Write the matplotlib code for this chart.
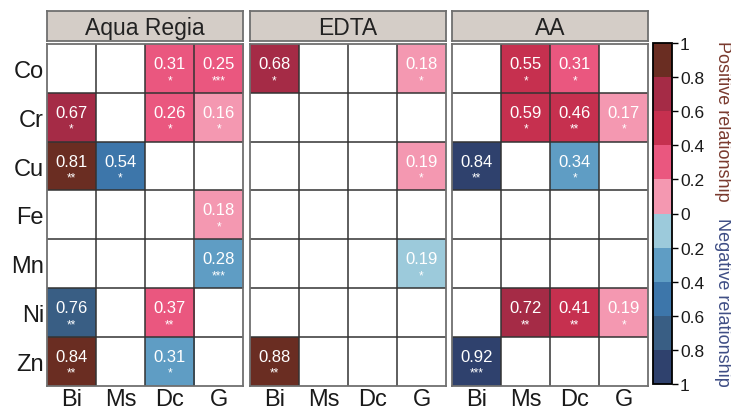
import numpy as np
import matplotlib
matplotlib.use('Agg')
import matplotlib.pyplot as plt
import matplotlib.colors as mcolors

plt.rcParams['font.family'] = ['Liberation Sans', 'DejaVu Sans']

# 데이터
elements = ['Co', 'Cr', 'Cu', 'Fe', 'Mn', 'Ni', 'Zn']
params = ['Bi', 'Ms', 'Dc', 'G']
panels = ['Aqua Regia', 'EDTA', 'AA']

# 부호 있는 상관계수 (음수 = 음의 관계), nan = 유의하지 않음
nan = np.nan
aqua_regia = [
    [nan, nan, 0.31, 0.25],
    [0.67, nan, 0.26, 0.16],
    [0.81, -0.54, nan, nan],
    [nan, nan, nan, 0.18],
    [nan, nan, nan, -0.28],
    [-0.76, nan, 0.37, nan],
    [0.84, nan, -0.31, nan],
]
aqua_regia_sig = [
    ['', '', '*', '***'],
    ['*', '', '*', '*'],
    ['**', '*', '', ''],
    ['', '', '', '*'],
    ['', '', '', '***'],
    ['**', '', '**', ''],
    ['**', '', '*', ''],
]
edta = [
    [0.68, nan, nan, 0.18],
    [nan, nan, nan, nan],
    [nan, nan, nan, 0.19],
    [nan, nan, nan, nan],
    [nan, nan, nan, -0.19],
    [nan, nan, nan, nan],
    [0.88, nan, nan, nan],
]
edta_sig = [
    ['*', '', '', '*'],
    ['', '', '', ''],
    ['', '', '', '*'],
    ['', '', '', ''],
    ['', '', '', '*'],
    ['', '', '', ''],
    ['**', '', '', ''],
]
aa = [
    [nan, 0.55, 0.31, nan],
    [nan, 0.59, 0.46, 0.17],
    [-0.84, nan, -0.34, nan],
    [nan, nan, nan, nan],
    [nan, nan, nan, nan],
    [nan, 0.72, 0.41, 0.19],
    [-0.92, nan, nan, nan],
]
aa_sig = [
    ['', '*', '*', ''],
    ['', '*', '**', '*'],
    ['**', '', '*', ''],
    ['', '', '', ''],
    ['', '', '', ''],
    ['', '**', '**', '*'],
    ['***', '', '', ''],
]
values = [aqua_regia, edta, aa]
sigs = [aqua_regia_sig, edta_sig, aa_sig]

cbar_ticks = [-1, -0.8, -0.6, -0.4, -0.2, 0, 0.2, 0.4, 0.6, 0.8, 1]

# 색상 설정 (-1 -> 1)
colors = ['#2F416D', '#395E84', '#3D76AA', '#5F9DC4', '#9CCADB',
          '#F498B1', '#EA577F', '#C6304F', '#A52B46', '#6A2D22']
cmap = mcolors.ListedColormap(colors)
norm = mcolors.BoundaryNorm(np.linspace(-1, 1, 11), cmap.N)

W, H = 731, 410
fig = plt.figure(figsize=(W / 100, H / 100), dpi=100)


def px_axes(x0, y0, x1, y1):
    return fig.add_axes([x0 / W, 1 - y1 / H, (x1 - x0) / W, (y1 - y0) / H])


panel_x = [(46.7, 243.3), (250, 446), (452.3, 648.3)]
grid_top, grid_bot = 45, 386.6

for k, name in enumerate(panels):
    x0, x1 = panel_x[k]
    ax = px_axes(x0, grid_top, x1, grid_bot)
    data = np.ma.masked_invalid(np.array(values[k], dtype=float))
    ax.imshow(data, cmap=cmap, norm=norm, aspect='auto',
              extent=(-0.5, 3.5, 6.5, -0.5))
    # 격자선
    for i in range(1, 4):
        ax.axvline(i - 0.5, color='#333333', lw=1.1)
    for j in range(1, 7):
        ax.axhline(j - 0.5, color='#333333', lw=1.1)
    for sp in ax.spines.values():
        sp.set_color('#6f6f6f')
        sp.set_linewidth(1.3)
    for r in range(7):
        for c in range(4):
            v = values[k][r][c]
            if np.isnan(v):
                continue
            ax.text(c, r - 0.1, f'{abs(v):.2f}', ha='center', va='center',
                    color='white', fontsize=12)
            ax.text(c, r + 0.24, sigs[k][r][c], ha='center', va='center',
                    color='white', fontsize=8.5)
    ax.set_xlim(-0.5, 3.5)
    ax.set_ylim(6.5, -0.5)
    ax.set_xticks(range(4))
    ax.set_xticklabels(params, fontsize=17, color='#1a1a1a')
    ax.tick_params(length=0, pad=2)
    if k == 0:
        ax.set_yticks(range(7))
        ax.set_yticklabels(elements, fontsize=17, color='#1a1a1a')
    else:
        ax.set_yticks([])

    # 패널 제목 상자
    hx = px_axes(x0, 11.7, x1, 41.7)
    hx.set_xticks([])
    hx.set_yticks([])
    hx.set_facecolor('#D4CDC7')
    for sp in hx.spines.values():
        sp.set_color('#6f6f6f')
        sp.set_linewidth(1.3)
    hx.text(0.5, 0.45, name, ha='center', va='center', fontsize=16.5,
            color='#222222', transform=hx.transAxes)

# 색상 막대
cax = px_axes(653.3, 44, 671.7, 385)
cb = fig.colorbar(plt.cm.ScalarMappable(norm=norm, cmap=cmap), cax=cax,
                  ticks=cbar_ticks)
cb.ax.set_yticklabels([f'{abs(t):g}' for t in cbar_ticks], fontsize=12.5,
                      color='#1a1a1a')
cb.ax.tick_params(length=4, width=1, pad=2)
cb.outline.set_linewidth(1.3)

fig.text(723 / W, 1 - 121 / H, 'Positive relationship', rotation=-90,
         ha='center', va='center', fontsize=13, color='#7A3A2E')
fig.text(723 / W, 1 - 302 / H, 'Negative relationship', rotation=-90,
         ha='center', va='center', fontsize=13, color='#3F4E85')

plt.savefig('out.png', dpi=100)
